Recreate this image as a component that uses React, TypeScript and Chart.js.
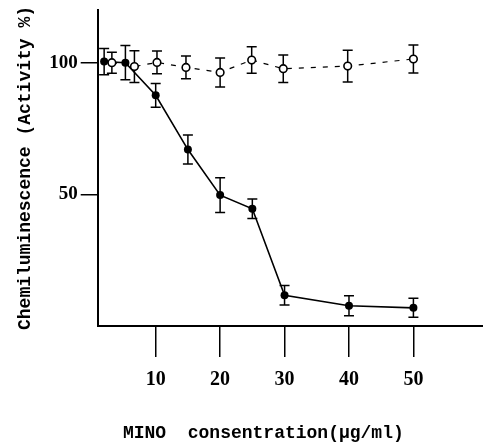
import { useEffect, useRef } from "react";
import { Chart, registerables } from "chart.js";

Chart.register(...registerables);

// MINO-treated (filled circles)
const filledX = [2, 5.3, 10, 15, 20, 25, 30, 40, 50];
const filledY = [100.4, 100, 87.6, 67, 49.7, 44.5, 11.7, 7.7, 6.9];
const filledErr = [5, 6.5, 4.5, 5.5, 6.6, 3.7, 3.7, 3.8, 3.6];

// Control (open circles)
const openX = [3.2, 6.7, 10.2, 14.7, 20, 24.9, 29.8, 39.8, 50];
const openY = [100, 98.5, 100.1, 98.2, 96.3, 101, 97.7, 98.7, 101.4];
const openErr = [4, 6, 4.3, 4.3, 5.5, 5, 5.2, 6, 5.3];

const xTickValues = [10, 20, 30, 40, 50];
const yTickValues = [50, 100];
const xTitle = "MINO  consentration(\u03BCg/ml)";
const yTitle = "Chemiluminescence (Activity %)";

const errorLists = [openErr, filledErr];

const errorBarPlugin = {
  id: "errorBars",
  beforeDatasetsDraw(chart: any) {
    const ctx = chart.ctx;
    const xs = chart.scales.x;
    const ys = chart.scales.y;
    ctx.save();
    ctx.strokeStyle = "#000";
    ctx.lineWidth = 1.5;
    chart.data.datasets.forEach((ds: any, di: number) => {
      const errs = errorLists[di];
      ds.data.forEach((p: any, i: number) => {
        const px = xs.getPixelForValue(p.x);
        const top = ys.getPixelForValue(p.y + errs[i]);
        const bot = ys.getPixelForValue(p.y - errs[i]);
        const cap = 5;
        ctx.beginPath();
        ctx.moveTo(px, top);
        ctx.lineTo(px, bot);
        ctx.moveTo(px - cap, top);
        ctx.lineTo(px + cap, top);
        ctx.moveTo(px - cap, bot);
        ctx.lineTo(px + cap, bot);
        ctx.stroke();
      });
    });
    ctx.restore();
  },
};

const xTickFont = { family: "'Liberation Serif', serif", size: 20, weight: "bold" as const };
const yTickFont = { family: "'Liberation Serif', serif", size: 19, weight: "bold" as const };
const titleFont = { family: "'Liberation Mono', monospace", size: 18, weight: "bold" as const };

export default function App() {
  const canvasRef = useRef<HTMLCanvasElement | null>(null);

  useEffect(() => {
    document.body.style.margin = "0";
    const canvas = canvasRef.current;
    if (!canvas) return;
    const chart = new Chart(canvas, {
      type: "scatter",
      data: {
        datasets: [
          {
            label: "control",
            data: openX.map((x, i) => ({ x, y: openY[i] })),
            showLine: true,
            borderColor: "#000",
            borderWidth: 1.2,
            borderDash: [5, 7],
            backgroundColor: "#fff",
            pointRadius: 3.8,
            pointBorderWidth: 1.6,
            pointBorderColor: "#000",
            pointBackgroundColor: "#fff",
          },
          {
            label: "MINO",
            data: filledX.map((x, i) => ({ x, y: filledY[i] })),
            showLine: true,
            borderColor: "#000",
            borderWidth: 1.6,
            backgroundColor: "#000",
            pointRadius: 4,
            pointBorderWidth: 0,
            pointBackgroundColor: "#000",
          },
        ],
      },
      options: {
        animation: false,
        responsive: true,
        maintainAspectRatio: false,
        layout: { autoPadding: false, padding: { top: 10, left: 0, right: 0, bottom: 0 } },
        plugins: {
          legend: { display: false },
          tooltip: { enabled: false },
        },
        scales: {
          x: {
            type: "linear",
            min: 1,
            max: 60.8,
            afterFit: (s: any) => {
              s.height = 119;
              s.paddingLeft = 0;
              s.paddingRight = 0;
            },
            afterBuildTicks: (s: any) => {
              s.ticks = xTickValues.map((v) => ({ value: v }));
            },
            grid: {
              drawOnChartArea: false,
              drawTicks: true,
              tickLength: 31,
              color: "#000",
              lineWidth: 1.5,
            },
            border: { display: true, color: "#000", width: 2 },
            ticks: { color: "#000", font: xTickFont, padding: 11, maxRotation: 0 },
            title: {
              display: true,
              text: xTitle + "     ",
              color: "#000",
              font: titleFont,
              padding: { top: 0, bottom: 1 },
            },
          },
          y: {
            type: "linear",
            min: 0,
            max: 120,
            afterFit: (s: any) => {
              s.width = 97.7;
              s.paddingTop = 0;
              s.paddingBottom = 0;
            },
            afterBuildTicks: (s: any) => {
              s.ticks = yTickValues.map((v) => ({ value: v }));
            },
            grid: {
              drawOnChartArea: false,
              drawTicks: true,
              tickLength: 17,
              color: "#000",
              lineWidth: 1.5,
            },
            border: { display: true, color: "#000", width: 2 },
            ticks: { color: "#000", font: yTickFont, padding: 3 },
            title: {
              display: true,
              text: yTitle,
              color: "#000",
              font: titleFont,
              padding: { top: 15, bottom: 0 },
            },
          },
        },
      },
      plugins: [errorBarPlugin],
    });
    return () => chart.destroy();
  }, []);

  return (
    <div style={{ position: "absolute", left: 0, top: 0, width: 483, height: 445, background: "#fff" }}>
      <canvas ref={canvasRef} />
    </div>
  );
}
